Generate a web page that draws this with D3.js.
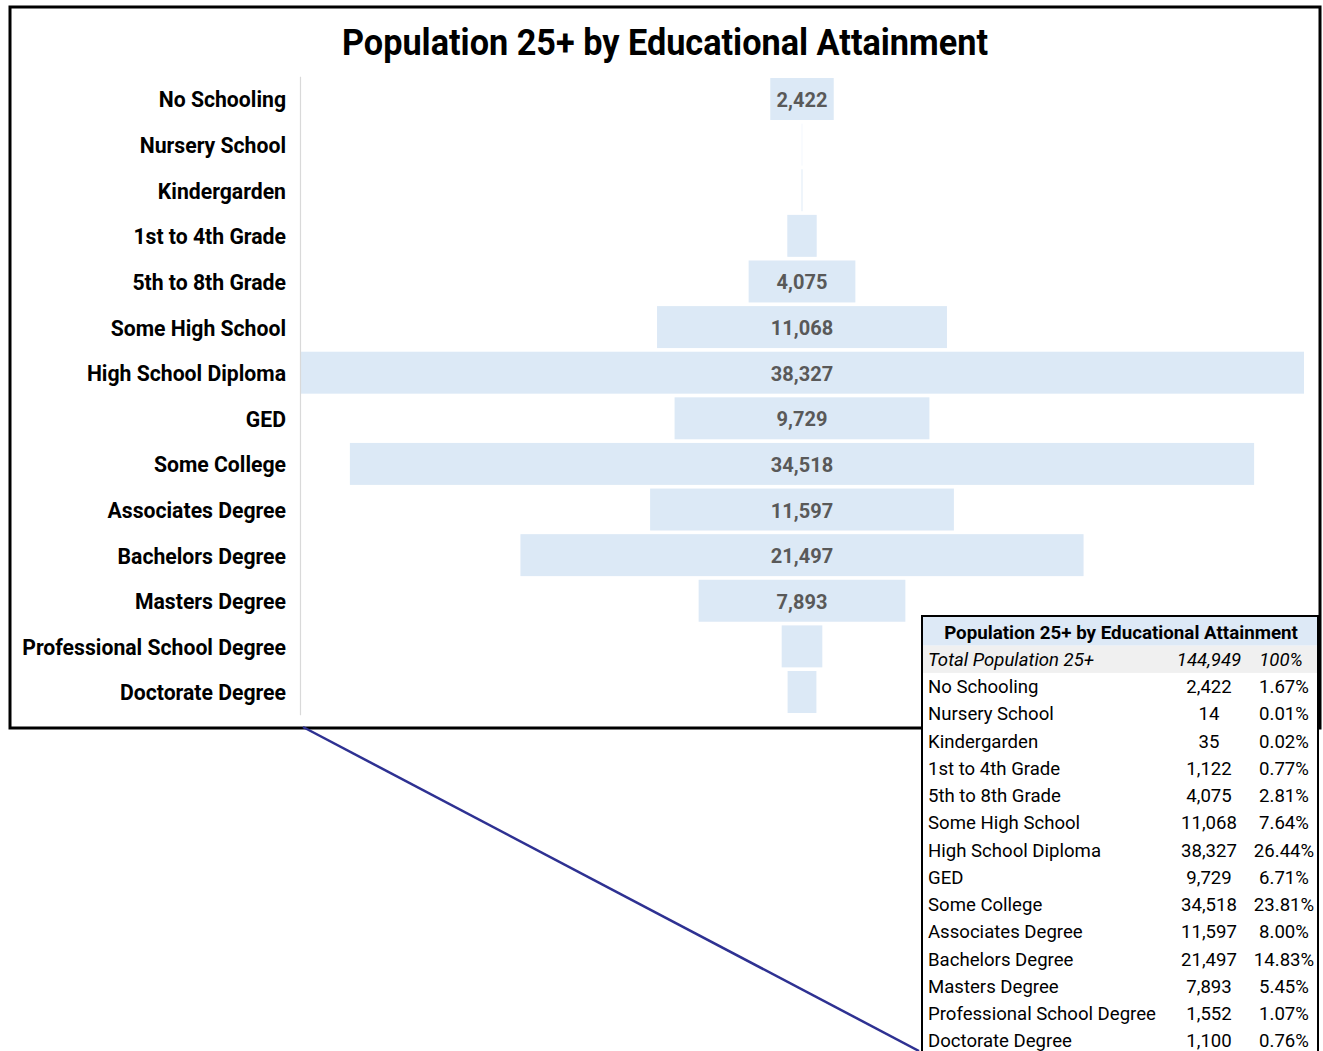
<!DOCTYPE html>
<html>
<head>
<meta charset="utf-8">
<script src="https://cdn.jsdelivr.net/npm/d3@7"></script>
<style>
  html, body { margin: 0; padding: 0; background: #fff; }
  svg { display: block; }
</style>
</head>
<body>
<svg id="chart" width="1323" height="1051"></svg>
<script>
// ---------- data ----------
const title = "Population 25+ by Educational Attainment";
const categories = [
  "No Schooling", "Nursery School", "Kindergarden", "1st to 4th Grade",
  "5th to 8th Grade", "Some High School", "High School Diploma", "GED",
  "Some College", "Associates Degree", "Bachelors Degree", "Masters Degree",
  "Professional School Degree", "Doctorate Degree"
];
const values = [2422, 14, 35, 1122, 4075, 11068, 38327, 9729, 34518, 11597, 21497, 7893, 1552, 1100];
const totalLabel = "Total Population 25+";

// ---------- layout ----------
const W = 1323, H = 1051;
const svg = d3.select("#chart");
const data = categories.map((c, i) => ({ cat: c, value: values[i] }));
const total = d3.sum(values);
const fmtNum = d3.format(",");
const fmtPct = d3.format(".2%");

svg.append("rect").attr("x", 0).attr("y", 0).attr("width", W).attr("height", H).attr("fill", "#fff");

// chart frame
svg.append("rect")
  .attr("x", 10).attr("y", 7).attr("width", 1310).attr("height", 721)
  .attr("fill", "#fff").attr("stroke", "#000").attr("stroke-width", 3);

function fitText(sel, targetWidth) {
  const node = sel.node();
  const w = node.getComputedTextLength();
  const fs = parseFloat(sel.attr("font-size"));
  sel.attr("font-size", fs * targetWidth / w);
}

// title
svg.append("text")
  .attr("x", 665).attr("y", 55)
  .attr("text-anchor", "middle")
  .attr("font-family", "Roboto, 'Liberation Sans', sans-serif")
  .attr("font-weight", 700)
  .attr("font-size", 36)
  .attr("fill", "#000")
  .attr("textLength", 646)
  .attr("lengthAdjust", "spacingAndGlyphs")
  .text(title);

// scales
const plotLeft = 300, plotRight = 1304;
const cx = (plotLeft + plotRight) / 2;
const y = d3.scaleBand()
  .domain(categories)
  .range([76.2, 714.8])
  .paddingInner(0.08)
  .paddingOuter(0.04);
const xw = d3.scaleLinear()
  .domain([0, d3.max(values)])
  .range([0, plotRight - plotLeft]);

// bars
svg.append("g").selectAll("rect").data(data).join("rect")
  .attr("x", d => cx - xw(d.value) / 2)
  .attr("y", d => y(d.cat))
  .attr("width", d => xw(d.value))
  .attr("height", y.bandwidth())
  .attr("fill", "#dce9f6");

// axis (category labels)
const axis = d3.axisLeft(y).tickSize(0).tickPadding(14);
const gAxis = svg.append("g").attr("transform", `translate(${plotLeft},0)`).call(axis);
gAxis.select(".domain").attr("stroke", "#d9d9d9").attr("stroke-width", 1.2);
gAxis.selectAll(".tick text")
  .attr("font-family", "Roboto, 'Liberation Sans', sans-serif")
  .attr("font-weight", 700)
  .attr("font-size", 20)
  .attr("dy", "0.4em")
  .attr("fill", "#000");
{
  const longest = gAxis.selectAll(".tick text").filter(d => d === "Professional School Degree");
  const w = longest.node().getComputedTextLength();
  const fs = 20 * 264 / w;
  gAxis.selectAll(".tick text").attr("font-size", fs);
}

// data labels
const labels = svg.append("g").selectAll("text").data(data).join("text")
  .attr("x", cx)
  .attr("y", d => y(d.cat) + y.bandwidth() / 2)
  .attr("dy", "0.4em")
  .attr("text-anchor", "middle")
  .attr("font-family", "Roboto, 'Liberation Sans', sans-serif")
  .attr("font-weight", 700)
  .attr("font-size", 20)
  .attr("fill", "#595959")
  .text(d => fmtNum(d.value));
labels.each(function (d) {
  const tw = this.getComputedTextLength();
  if (xw(d.value) < tw) d3.select(this).remove();
});

// connector line
svg.append("line")
  .attr("x1", 303).attr("y1", 727)
  .attr("x2", 919).attr("y2", 1051)
  .attr("stroke", "#2e3192").attr("stroke-width", 2.5);

// ---------- table ----------
const tx = 922, ty = 616, tw = 396;
const rowStep = 27.23;
const rowCenter = i => 686.5 + rowStep * i; // i = -2 header, -1 total
const tbl = svg.append("g");
tbl.append("rect").attr("x", tx).attr("y", ty).attr("width", tw).attr("height", H - ty + 10)
  .attr("fill", "#fff").attr("stroke", "#000").attr("stroke-width", 2);
tbl.append("rect").attr("x", tx + 1).attr("y", ty + 1).attr("width", tw - 2).attr("height", rowCenter(-1.5) - ty - 1)
  .attr("fill", "#dde9f6");
tbl.append("rect").attr("x", tx + 1).attr("y", rowCenter(-1.5)).attr("width", tw - 2).attr("height", rowStep)
  .attr("fill", "#f0f0f0");

const tFont = "Roboto, 'Liberation Sans', sans-serif";
const hdr = tbl.append("text")
  .attr("x", 1121).attr("y", rowCenter(-2)).attr("dy", "0.36em")
  .attr("text-anchor", "middle")
  .attr("font-family", tFont).attr("font-weight", 700).attr("font-size", 18)
  .attr("fill", "#000").text(title);
fitText(hdr, 354);

const colNum = 1209, colPct = 1284, colLabel = 928;
const rows = [{ cat: totalLabel, value: total, total: true }].concat(data);
const rowG = tbl.selectAll("g.row").data(rows).join("g").attr("class", "row")
  .attr("transform", (d, i) => `translate(0,${rowCenter(i - 1)})`)
  .attr("font-family", tFont).attr("font-size", 18).attr("fill", "#000")
  .attr("font-style", d => d.total ? "italic" : "normal");
rowG.append("text").attr("class", "lab").attr("x", colLabel).attr("dy", "0.36em").text(d => d.cat);
rowG.append("text").attr("x", colNum).attr("dy", "0.36em").attr("text-anchor", "middle").text(d => fmtNum(d.value));
rowG.append("text").attr("x", d => d.total ? colPct - 3 : colPct).attr("dy", "0.36em").attr("text-anchor", "middle")
  .text(d => d.total ? d3.format(".0%")(d.value / total) : fmtPct(d.value / total));
{
  const ref = rowG.selectAll("text.lab").filter(d => d.cat === "Professional School Degree");
  const w = ref.node().getComputedTextLength();
  rowG.attr("font-size", 18 * 228 / w);
}
</script>
</body>
</html>
